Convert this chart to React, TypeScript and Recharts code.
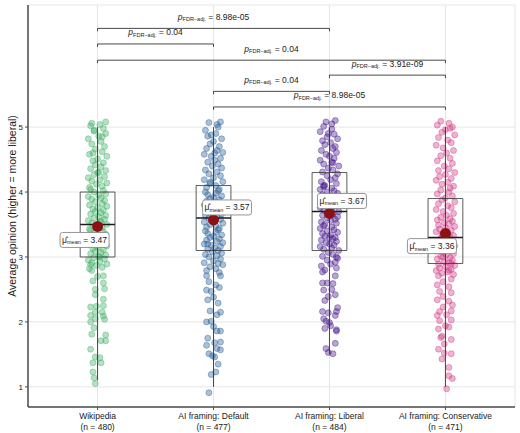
import React from "react";
import {
  ComposedChart,
  Scatter,
  XAxis,
  YAxis,
  CartesianGrid,
  ReferenceArea,
  ReferenceLine,
  ReferenceDot,
} from "recharts";

// groups, left to right
const groupNames = ["Wikipedia", "AI framing: Default", "AI framing: Liberal", "AI framing: Conservative"];
const groupN = [480, 477, 484, 471];
const groupColors = ["#45B26B", "#2F6398", "#4B1F8E", "#D2428A"];

// box summaries
const q1 = [3.0, 3.1, 3.1, 2.9];
const medians = [3.5, 3.6, 3.7, 3.3];
const q3 = [4.0, 4.1, 4.3, 3.9];
const whiskerLow = [1.1, 1.0, 1.5, 1.0];
const whiskerHigh = [5.0, 5.0, 5.0, 5.0];
const means = [3.47, 3.57, 3.67, 3.36];

// pairwise comparisons: [from group, to group, adjusted p]
const comparisons: [number, number, string][] = [
  [1, 3, "8.98e-05"],
  [1, 2, "0.04"],
  [1, 4, "0.04"],
  [3, 4, "3.91e-09"],
  [2, 3, "0.04"],
  [2, 4, "8.98e-05"],
];
const bracketLevels = [6.52, 6.28, 6.03, 5.8, 5.55, 5.31];

// jittered observations: [horizontal jitter, value]
const wikipediaPoints: [number, number][] = [
  [-0.02, 1.05], [-0.03, 1.14], [-0.04, 1.23], [0.03, 1.37], [-0.04, 1.37], [-0.02, 1.46], [0.02, 1.45],
  [-0.06, 1.58], [0.07, 1.71], [0.03, 1.71], [0.07, 1.8], [-0.05, 1.81], [-0.03, 1.91], [0.06, 2.04],
  [-0.06, 2.0], [-0.02, 2.05], [0.05, 2.09], [-0.06, 2.1], [-0.02, 2.15], [0.04, 2.15], [-0.06, 2.23],
  [-0.01, 2.24], [0.05, 2.25], [0.05, 2.35], [-0.02, 2.42], [0.06, 2.51], [-0.02, 2.5], [0.05, 2.6],
  [-0.04, 2.63], [0.0, 2.7], [0.05, 2.71], [-0.05, 2.79],
  [-0.07, 2.82], [0.04, 2.84], [-0.01, 2.87], [0.08, 2.89], [-0.05, 2.91], [0.02, 2.93], [-0.08, 2.95],
  [0.06, 2.97], [-0.03, 2.99], [0.01, 3.01], [0.07, 3.03], [-0.06, 3.05], [0.03, 3.07], [-0.02, 3.09],
  [0.05, 3.11], [-0.04, 3.13], [0.0, 3.15], [0.08, 3.17], [-0.07, 3.19], [0.04, 3.21], [-0.02, 3.23],
  [0.06, 3.25], [-0.05, 3.27], [0.03, 3.29], [-0.08, 3.31], [0.01, 3.33], [0.07, 3.35], [-0.03, 3.37],
  [0.05, 3.39], [-0.06, 3.41], [-0.07, 3.43], [0.04, 3.45], [-0.01, 3.48], [0.08, 3.5], [-0.05, 3.52],
  [0.02, 3.54], [-0.08, 3.56], [0.06, 3.58], [-0.03, 3.6], [0.01, 3.62], [0.07, 3.64], [-0.06, 3.66],
  [0.03, 3.68], [-0.02, 3.7], [0.05, 3.72], [-0.04, 3.74], [0.0, 3.76], [0.08, 3.78], [-0.07, 3.8],
  [0.04, 3.82], [-0.02, 3.85], [0.06, 3.87], [-0.05, 3.89], [0.03, 3.91], [-0.08, 3.93], [0.01, 3.95],
  [0.07, 3.97], [-0.03, 4.0], [0.05, 4.02], [-0.06, 4.04], [-0.07, 4.07], [0.04, 4.09], [-0.01, 4.12],
  [0.08, 4.14], [-0.05, 4.17], [0.02, 4.19], [-0.08, 4.22], [0.06, 4.24], [-0.03, 4.27], [0.01, 4.3],
  [0.07, 4.33], [-0.06, 4.36], [0.03, 4.39], [-0.02, 4.42], [0.05, 4.45], [-0.04, 4.48], [0.0, 4.51],
  [0.08, 4.55], [-0.07, 4.58], [0.04, 4.62], [-0.02, 4.66], [0.06, 4.7], [-0.05, 4.74], [0.03, 4.78],
  [-0.08, 4.82], [0.01, 4.86], [0.07, 4.9], [-0.03, 4.94], [0.05, 4.98], [-0.06, 5.02], [0.02, 5.04],
  [-0.05, 5.06], [0.07, 5.08], [-0.03, 4.95], [0.04, 4.85], [-0.04, 4.6], [0.0, 4.3], [0.03, 3.55],
  [-0.04, 3.25], [0.02, 3.0], [-0.06, 2.88],
];

const defaultPoints: [number, number][] = [
  [-0.04, 0.91], [-0.02, 1.19], [0.02, 1.23], [0.04, 1.35], [0.01, 1.46], [-0.04, 1.51], [-0.01, 1.48],
  [0.06, 1.57], [0.03, 1.59], [-0.06, 1.64], [0.06, 1.69], [0.01, 1.68], [-0.05, 1.75], [0.06, 1.86],
  [0.03, 1.86], [0.0, 1.93], [-0.06, 2.0], [-0.02, 2.01], [0.06, 2.15], [0.03, 2.11], [-0.03, 2.17],
  [0.04, 2.29], [-0.05, 2.34], [0.0, 2.38], [-0.06, 2.49], [-0.02, 2.47], [0.05, 2.53], [0.02, 2.57],
  [-0.04, 2.62], [0.06, 2.71], [-0.06, 2.71],
  [0.05, 2.76], [-0.06, 2.79], [0.02, 2.82], [-0.03, 2.85], [0.08, 2.88], [-0.08, 2.91], [0.0, 2.94],
  [0.06, 2.97], [-0.04, 3.0], [0.03, 3.02], [-0.07, 3.04], [0.07, 3.06], [-0.01, 3.08], [0.04, 3.1],
  [-0.05, 3.12], [0.01, 3.14], [0.06, 3.16], [-0.02, 3.18], [-0.08, 3.2], [0.08, 3.22], [0.03, 3.24],
  [-0.06, 3.26], [0.05, 3.28], [-0.03, 3.3], [0.0, 3.32], [0.07, 3.34], [-0.05, 3.36], [0.02, 3.38],
  [-0.07, 3.4], [0.04, 3.42], [0.05, 3.44], [-0.06, 3.46], [0.02, 3.48], [-0.03, 3.5], [0.08, 3.52],
  [-0.08, 3.54], [0.0, 3.56], [0.06, 3.58], [-0.04, 3.6], [0.03, 3.62], [-0.07, 3.64], [0.07, 3.66],
  [-0.01, 3.68], [0.04, 3.7], [-0.05, 3.72], [0.01, 3.74], [0.06, 3.76], [-0.02, 3.78], [-0.08, 3.8],
  [0.08, 3.82], [0.03, 3.84], [-0.06, 3.86], [0.05, 3.88], [-0.03, 3.9], [0.0, 3.92], [0.07, 3.94],
  [-0.05, 3.96], [0.02, 3.98], [-0.07, 4.0], [0.04, 4.02], [0.05, 4.04], [-0.06, 4.07], [0.02, 4.1],
  [-0.03, 4.13], [0.08, 4.16], [-0.08, 4.19], [0.0, 4.22], [0.06, 4.25], [-0.04, 4.28], [0.03, 4.31],
  [-0.07, 4.34], [0.07, 4.37], [-0.01, 4.4], [0.04, 4.43], [-0.05, 4.46], [0.01, 4.49], [0.06, 4.52],
  [-0.02, 4.55], [-0.08, 4.58], [0.08, 4.61], [0.03, 4.64], [-0.06, 4.67], [0.05, 4.7], [-0.03, 4.74],
  [0.0, 4.78], [0.07, 4.82], [-0.05, 4.86], [0.02, 4.9], [-0.07, 4.95], [0.04, 5.0], [0.03, 5.04],
  [-0.04, 5.07], [0.06, 5.08], [-0.02, 4.88], [0.01, 4.6], [-0.03, 4.15], [0.02, 3.75], [-0.05, 3.2],
  [0.04, 2.9],
];

const liberalPoints: [number, number][] = [
  [0.03, 1.51], [-0.01, 1.53], [-0.03, 1.59], [0.05, 1.67], [0.06, 1.86], [-0.04, 1.9], [0.01, 1.94],
  [0.0, 1.99], [0.06, 1.88], [-0.05, 2.05], [-0.03, 2.01], [0.05, 2.1], [0.06, 2.16], [-0.06, 2.16],
  [-0.01, 2.14], [0.07, 2.22], [-0.04, 2.33], [0.05, 2.42], [-0.01, 2.39], [-0.05, 2.49], [0.02, 2.5],
  [-0.06, 2.6], [0.03, 2.59], [-0.02, 2.6], [0.05, 2.71], [-0.06, 2.77],
  [-0.04, 2.8], [0.06, 2.83], [-0.07, 2.86], [0.01, 2.89], [0.05, 2.92], [-0.02, 2.95], [0.07, 2.98],
  [-0.06, 3.01], [0.03, 3.04], [-0.01, 3.07], [0.08, 3.1], [-0.05, 3.12], [0.02, 3.14], [-0.08, 3.16],
  [0.04, 3.18], [0.0, 3.2], [-0.03, 3.22], [0.06, 3.24], [-0.07, 3.26], [0.03, 3.28], [0.05, 3.3],
  [-0.04, 3.32], [0.01, 3.34], [-0.06, 3.36], [0.07, 3.38], [-0.02, 3.4], [0.04, 3.42], [-0.08, 3.44],
  [0.02, 3.46], [-0.05, 3.48], [-0.04, 3.5], [0.06, 3.52], [-0.07, 3.54], [0.01, 3.56], [0.05, 3.58],
  [-0.02, 3.6], [0.07, 3.62], [-0.06, 3.64], [0.03, 3.66], [-0.01, 3.68], [0.08, 3.7], [-0.05, 3.72],
  [0.02, 3.74], [-0.08, 3.76], [0.04, 3.78], [0.0, 3.8], [-0.03, 3.82], [0.06, 3.84], [-0.07, 3.86],
  [0.03, 3.88], [0.05, 3.9], [-0.04, 3.92], [0.01, 3.94], [-0.06, 3.96], [0.07, 3.98], [-0.02, 4.0],
  [0.04, 4.02], [-0.08, 4.04], [0.02, 4.06], [-0.05, 4.08], [-0.04, 4.1], [0.06, 4.13], [-0.07, 4.16],
  [0.01, 4.19], [0.05, 4.22], [-0.02, 4.25], [0.07, 4.28], [-0.06, 4.31], [0.03, 4.34], [-0.01, 4.37],
  [0.08, 4.4], [-0.05, 4.43], [0.02, 4.46], [-0.08, 4.49], [0.04, 4.52], [0.0, 4.55], [-0.03, 4.58],
  [0.06, 4.61], [-0.07, 4.64], [0.03, 4.67], [0.05, 4.7], [-0.04, 4.73], [0.01, 4.76], [-0.06, 4.79],
  [0.07, 4.82], [-0.02, 4.85], [0.04, 4.89], [-0.08, 4.93], [0.02, 4.97], [-0.05, 5.01], [0.02, 5.05],
  [-0.03, 5.08], [0.05, 5.1], [-0.01, 4.9], [0.03, 4.45], [-0.05, 4.1], [0.0, 3.3], [0.06, 3.0],
];

const conservativePoints: [number, number][] = [
  [0.01, 0.97], [0.06, 1.13], [0.03, 1.17], [0.03, 1.3], [-0.03, 1.43], [0.05, 1.51], [-0.01, 1.52],
  [-0.06, 1.58], [0.05, 1.73], [-0.01, 1.66], [-0.04, 1.76], [-0.03, 1.78], [-0.06, 1.89], [0.03, 1.92],
  [0.0, 1.94], [-0.05, 2.02], [0.05, 2.03], [-0.07, 2.1], [0.01, 2.11], [0.05, 2.17], [-0.05, 2.16],
  [-0.02, 2.23], [0.06, 2.26], [0.03, 2.32], [-0.07, 2.34], [-0.02, 2.39], [0.05, 2.45], [-0.05, 2.47],
  [0.03, 2.54], [-0.07, 2.57], [-0.02, 2.62], [0.05, 2.66], [-0.06, 2.71],
  [0.07, 2.73], [-0.03, 2.75], [0.02, 2.77], [-0.08, 2.79], [0.05, 2.81], [-0.05, 2.83], [0.0, 2.85],
  [0.08, 2.87], [-0.06, 2.89], [0.03, 2.91], [-0.01, 2.93], [0.06, 2.95], [-0.07, 2.97], [0.04, 2.99],
  [-0.04, 3.01], [0.01, 3.03], [0.07, 3.05], [-0.02, 3.07], [-0.08, 3.09], [0.05, 3.11], [0.02, 3.13],
  [-0.06, 3.15], [0.08, 3.17], [-0.03, 3.19], [0.0, 3.21], [0.06, 3.23], [-0.07, 3.25], [0.03, 3.27],
  [-0.04, 3.29], [0.04, 3.31], [0.07, 3.33], [-0.03, 3.35], [0.02, 3.37], [-0.08, 3.39], [0.05, 3.41],
  [-0.05, 3.43], [0.0, 3.45], [0.08, 3.47], [-0.06, 3.49], [0.03, 3.51], [-0.01, 3.53], [0.06, 3.55],
  [-0.07, 3.57], [0.04, 3.59], [-0.04, 3.61], [0.01, 3.64], [0.07, 3.67], [-0.02, 3.7], [-0.08, 3.73],
  [0.05, 3.76], [0.02, 3.79], [-0.06, 3.82], [0.08, 3.85], [-0.03, 3.88], [0.0, 3.91], [0.06, 3.94],
  [-0.07, 3.97], [0.03, 4.0], [-0.04, 4.03], [0.04, 4.06], [0.07, 4.09], [-0.03, 4.12], [0.02, 4.15],
  [-0.08, 4.18], [0.05, 4.21], [-0.05, 4.24], [0.0, 4.27], [0.08, 4.3], [-0.06, 4.33], [0.03, 4.36],
  [-0.01, 4.4], [0.06, 4.44], [-0.07, 4.48], [0.04, 4.52], [-0.04, 4.56], [0.01, 4.6], [0.07, 4.64],
  [-0.02, 4.68], [-0.08, 4.72], [0.05, 4.76], [0.02, 4.8], [-0.06, 4.84], [0.08, 4.88], [-0.03, 4.92],
  [0.0, 4.96], [0.06, 5.0], [-0.07, 5.03], [0.03, 5.06], [-0.04, 5.09], [0.04, 4.98], [-0.02, 3.0],
  [0.03, 2.8], [-0.05, 3.15], [0.01, 3.4], [0.05, 2.9],
];

const groupPoints = [wikipediaPoints, defaultPoints, liberalPoints, conservativePoints];

// nudge of each mean label from its dot, in pixels
const meanLabelOffsets: [number, number][] = [
  [-13, 13.5],
  [13.5, -12.5],
  [12.5, -12.5],
  [-13.5, 12.5],
];

const BOX_HALF = 0.15;
const TICK_DROP = 0.045;
const LINE = "#333333";

const CategoryTick = ({ x, y, payload }: any) => {
  const i = Math.round(payload.value) - 1;
  return (
    <g>
      <text x={x} y={y + 7} textAnchor="middle" fontSize={8.5} fill="#1a1a1a">
        {groupNames[i]}
      </text>
      <text x={x} y={y + 18} textAnchor="middle" fontSize={8.5} fill="#1a1a1a">
        (n = {groupN[i]})
      </text>
    </g>
  );
};

const YTitle = ({ viewBox }: any) => {
  const cy = viewBox.y + viewBox.height / 2;
  return (
    <text
      x={12}
      y={cy}
      transform={`rotate(-90, 12, ${cy})`}
      textAnchor="middle"
      dominantBaseline="central"
      fontSize={10.5}
      fill="#1a1a1a"
    >
      Average opinion (higher = more liberal)
    </text>
  );
};

const MeanLabel = ({ cx, cy, idx }: any) => {
  const [ox, oy] = meanLabelOffsets[idx];
  const w = 49;
  const h = 15;
  const lx = cx + ox;
  const ly = cy + oy;
  return (
    <g>
      <rect x={lx - w / 2} y={ly - h / 2} width={w} height={h} rx={2.5} fill="#fff" stroke="#8a8a8a" strokeWidth={0.9} />
      <text x={lx} y={ly + 3} textAnchor="middle" fontSize={8.5} fill="#1a1a1a">
        <tspan>{"\u03bc\u0302"}</tspan>
        <tspan fontSize={5.5} dy={1.5}>mean</tspan>
        <tspan dy={-1.5}>{` = ${means[idx].toFixed(2)}`}</tspan>
      </text>
    </g>
  );
};

const PLabel = ({ cx, cy, p }: any) => (
  <text x={cx} y={cy - 8.5} textAnchor="middle" fontSize={8.5} fill="#1a1a1a">
    <tspan fontStyle="italic">p</tspan>
    <tspan fontSize={5.5} dy={1.5}>{"FDR\u2212adj."}</tspan>
    <tspan dy={-1.5}>{` = ${p}`}</tspan>
  </text>
);

export default function App() {
  const pointsByGroup = groupPoints.map((pts, g) => pts.map(([dx, y]) => ({ x: g + 1 + dx, y })));
  const meanData = means.map((m, g) => ({ x: g + 1, y: m }));

  return (
    <div style={{ position: "absolute", left: 0, top: 0, fontFamily: "'Liberation Sans', Arial, sans-serif" }}>
      <ComposedChart width={520} height={433} margin={{ top: 5, right: 5, bottom: 0, left: 0 }}>
        <CartesianGrid stroke="#e6e6e6" strokeWidth={1} />
        <XAxis
          type="number"
          dataKey="x"
          domain={[0.4, 4.6]}
          ticks={[1, 2, 3, 4]}
          allowDataOverflow
          height={26}
          tickSize={3}
          tick={<CategoryTick />}
          axisLine={{ stroke: "#4d4d4d", strokeWidth: 1.5 }}
          tickLine={{ stroke: "#4d4d4d" }}
        />
        <YAxis
          type="number"
          dataKey="y"
          domain={[0.69, 6.88]}
          ticks={[1, 2, 3, 4, 5]}
          allowDataOverflow
          width={28}
          tickSize={3}
          tick={{ fontSize: 8, fill: "#1a1a1a" }}
          axisLine={{ stroke: "#4d4d4d", strokeWidth: 1.5 }}
          tickLine={{ stroke: "#4d4d4d" }}
          label={{ content: YTitle }}
        />

        {pointsByGroup.map((data, g) => (
          <Scatter
            key={`pts-${g}`}
            data={data}
            dataKey="y"
            isAnimationActive={false}
            shape={(p: any) => (
              <circle
                cx={p.cx}
                cy={p.cy}
                r={3}
                fill={groupColors[g]}
                fillOpacity={0.4}
                stroke={groupColors[g]}
                strokeOpacity={0.6}
                strokeWidth={0.7}
              />
            )}
          />
        ))}

        {groupNames.map((_, g) => (
          <ReferenceLine
            key={`wh-${g}`}
            segment={[{ x: g + 1, y: whiskerLow[g] }, { x: g + 1, y: whiskerHigh[g] }]}
            stroke={LINE}
            strokeWidth={0.9}
            zIndex={700}
          />
        ))}
        {groupNames.map((_, g) => (
          <ReferenceArea
            key={`box-${g}`}
            x1={g + 1 - BOX_HALF}
            x2={g + 1 + BOX_HALF}
            y1={q1[g]}
            y2={q3[g]}
            fill="none"
            fillOpacity={0}
            stroke={LINE}
            strokeWidth={0.8}
            strokeOpacity={1}
            zIndex={700}
          />
        ))}
        {groupNames.map((_, g) => (
          <ReferenceLine
            key={`med-${g}`}
            segment={[{ x: g + 1 - BOX_HALF, y: medians[g] }, { x: g + 1 + BOX_HALF, y: medians[g] }]}
            stroke="#1a1a1a"
            strokeWidth={1.4}
            zIndex={700}
          />
        ))}

        <Scatter
          data={meanData}
          dataKey="y"
          isAnimationActive={false}
          zIndex={800}
          shape={(p: any) => <circle cx={p.cx} cy={p.cy} r={5.5} fill="#8b1212" />}
        />

        {meanData.map((d, g) => (
          <ReferenceDot
            key={`ml-${g}`}
            x={d.x}
            y={d.y}
            r={0}
            zIndex={900}
            shape={(p: any) => <MeanLabel cx={p.cx} cy={p.cy} idx={g} />}
          />
        ))}

        {comparisons.map(([a, b, p], k) => (
          <ReferenceLine
            key={`br-${k}`}
            segment={[{ x: a, y: bracketLevels[k] }, { x: b, y: bracketLevels[k] }]}
            stroke="#1a1a1a"
            strokeWidth={0.8}
          />
        ))}
        {comparisons.map(([a, b], k) => (
          <ReferenceLine
            key={`bl-${k}`}
            segment={[{ x: a, y: bracketLevels[k] }, { x: a, y: bracketLevels[k] - TICK_DROP }]}
            stroke="#1a1a1a"
            strokeWidth={0.8}
          />
        ))}
        {comparisons.map(([a, b], k) => (
          <ReferenceLine
            key={`brr-${k}`}
            segment={[{ x: b, y: bracketLevels[k] }, { x: b, y: bracketLevels[k] - TICK_DROP }]}
            stroke="#1a1a1a"
            strokeWidth={0.8}
          />
        ))}
        {comparisons.map(([a, b, p], k) => (
          <ReferenceDot
            key={`pl-${k}`}
            x={(a + b) / 2}
            y={bracketLevels[k]}
            r={0}
            zIndex={900}
            shape={(s: any) => <PLabel cx={s.cx} cy={s.cy} p={p} />}
          />
        ))}
      </ComposedChart>
    </div>
  );
}
